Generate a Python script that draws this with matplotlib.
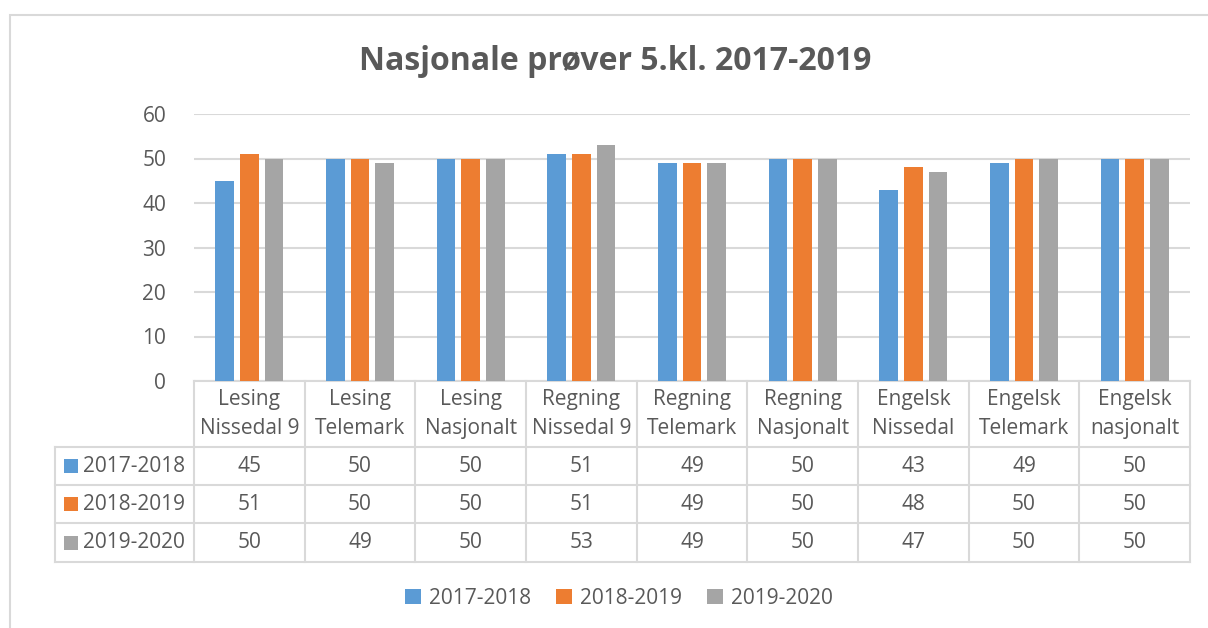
import matplotlib.pyplot as plt
import matplotlib.transforms as mtransforms
from matplotlib.patches import Rectangle
import numpy as np

plt.rcParams['font.family'] = ['Open Sans', 'DejaVu Sans']

categories = ['Lesing\nNissedal 9', 'Lesing\nTelemark', 'Lesing\nNasjonalt',
              'Regning\nNissedal 9', 'Regning\nTelemark', 'Regning\nNasjonalt',
              'Engelsk\nNissedal', 'Engelsk\nTelemark', 'Engelsk\nnasjonalt']
series_names = ['2017-2018', '2018-2019', '2019-2020']
v2017 = [45, 50, 50, 51, 49, 50, 43, 49, 50]
v2018 = [51, 50, 50, 51, 49, 50, 48, 50, 50]
v2019 = [50, 49, 50, 53, 49, 50, 47, 50, 50]
colors = ['#5b9bd5', '#ed7d31', '#a5a5a5']

text_c = '#595959'
grid_c = '#d9d9d9'
fs = 15

fig = plt.figure(figsize=(12.08, 6.28), dpi=100)
W, H = 1208, 628

# outer chart border
fig.patches.append(Rectangle((10 / W, -0.1), 1.2, 1.1 - 15 / H, transform=fig.transFigure,
                             fill=False, edgecolor=grid_c, lw=1.5))

ax = fig.add_axes([194 / W, 1 - 381 / H, (1190 - 194) / W, (381 - 114) / H])
x = np.arange(len(categories))
vals = [v2017, v2018, v2019]
step = 0.223
for i, (name, v, c) in enumerate(zip(series_names, vals, colors)):
    ax.bar(x + (i - 1) * step, v, width=0.17, color=c, label=name, zorder=3)

ax.set_xlim(-0.5, len(categories) - 0.5)
ax.set_ylim(0, 60)
ax.set_yticks(range(0, 61, 10))
ax.yaxis.grid(True, color=grid_c, lw=1.5, zorder=0)
ax.tick_params(axis='y', length=0, labelsize=fs, labelcolor=text_c, pad=20)
ax.set_xticks([])
for s in ax.spines.values():
    s.set_visible(False)

# data table under the chart
tr = mtransforms.blended_transform_factory(ax.transData, ax.transAxes)
px_y = lambda p: (381 - p) / (381 - 114)
px_x = lambda p: -0.5 + (p - 194) / ((1190 - 194) / len(categories))
y_head = px_y(447)
row_bottoms = [px_y(485), px_y(523), px_y(562)]
row_tops = [y_head] + row_bottoms[:-1]
x_left = px_x(55)
xr = len(categories) - 0.5
lk = dict(color=grid_c, lw=1.5, transform=tr, clip_on=False)

ax.plot([-0.5, xr], [0, 0], **lk)
for yy in [y_head] + row_bottoms:
    ax.plot([x_left, xr], [yy, yy], **lk)
for k in range(len(categories) + 1):
    ax.plot([k - 0.5, k - 0.5], [0, row_bottoms[-1]], **lk)
ax.plot([x_left, x_left], [y_head, row_bottoms[-1]], **lk)

for k, cat in enumerate(categories):
    ax.text(k, (0 + y_head) / 2, cat, transform=tr, ha='center', va='center',
            fontsize=fs, color=text_c, linespacing=1.45)
for i, (name, v, c) in enumerate(zip(series_names, vals, colors)):
    yc = (row_tops[i] + row_bottoms[i]) / 2
    ax.text(px_x(83), yc, name, transform=tr, ha='left', va='center',
            fontsize=fs, color=text_c)
    ax.scatter([px_x(70.5)], [yc], marker='s', s=100, color=c, transform=tr,
               clip_on=False, linewidths=0)
    for k, val in enumerate(v):
        ax.text(k, yc, str(val), transform=tr, ha='center', va='center',
                fontsize=fs, color=text_c)

fig.text(615 / W, 1 - 62 / H, 'Nasjonale prøver 5.kl. 2017-2019', ha='center', va='center',
         fontsize=23, fontweight='bold', color=text_c)

fig.legend(loc='center', bbox_to_anchor=(619 / W, 1 - 598 / H), ncol=3, frameon=False,
           fontsize=fs, labelcolor=text_c, handlelength=0.75, handleheight=0.75,
           handletextpad=0.4, columnspacing=1.2)

fig.savefig('out.png', dpi=100)
